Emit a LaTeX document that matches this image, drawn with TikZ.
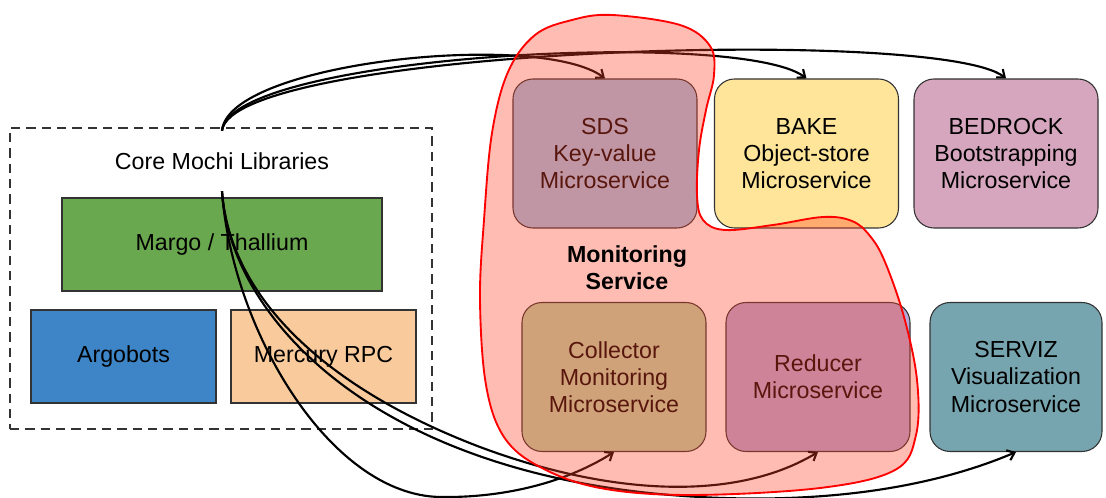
\documentclass[tikz,border=0pt]{standalone}
\usepackage{fontspec}
\setmainfont{Liberation Sans}
\usetikzlibrary{arrows.meta}
\definecolor{cgreen}{HTML}{6AA84F}
\definecolor{cblue}{HTML}{3D85C6}
\definecolor{corange}{HTML}{F9CB9C}
\definecolor{csds}{HTML}{9FC5E8}
\definecolor{cbake}{HTML}{FFE599}
\definecolor{cbedrock}{HTML}{D5A6BD}
\definecolor{ccoll}{HTML}{B6D7A8}
\definecolor{cred}{HTML}{B4A7D6}
\definecolor{cserviz}{HTML}{76A5AF}
\definecolor{blobfill}{RGB}{255,64,38}
\definecolor{edge}{HTML}{333333}
\tikzset{
  lib/.style={draw=edge, line width=0.8pt, inner sep=0pt, align=center},
  svc/.style={draw=edge, line width=0.8pt, rounded corners=15pt, inner sep=0pt, align=center,
    minimum width=138pt, minimum height=111.75pt},
  conn/.style={line width=1.6pt, -{Straight Barb[length=5pt,width=8pt]}},
  txt/.style={font=\fontsize{17.4}{20.3}\selectfont}
}
\begin{document}
\begin{tikzpicture}[x=0.75pt,y=-0.75pt, every node/.append style={txt}]
\useasboundingbox (0,0) rectangle (1106,498);
% core libraries
\node[draw=edge, dash pattern=on 7pt off 4.5pt, line width=2pt, minimum width=316.5pt, minimum height=225.75pt] (core) at (221,278.5) {};
\node[minimum height=45pt, inner sep=0pt] (title) at (222,161) {Core Mochi Libraries};
\node[lib, fill=cgreen, minimum width=240pt, minimum height=69.75pt] (margo) at (222,244.5) {Margo / Thallium};
\node[lib, fill=cblue, minimum width=138.75pt, minimum height=69.75pt] (argo) at (123.5,356.5) {Argobots};
\node[lib, fill=corange, minimum width=138.75pt, minimum height=69.75pt] (merc) at (323.5,356.5) {Mercury RPC};
% services
\node[svc, fill=csds] (sds) at (605,153.5) {SDS\\Key-value\\Microservice};
\node[svc, fill=cbake] (bake) at (806.5,153.5) {BAKE\\Object-store\\Microservice};
\node[svc, fill=cbedrock] (bedrock) at (1006,153.5) {BEDROCK\\Bootstrapping\\Microservice};
\node[svc, fill=ccoll] (coll) at (614,377) {Collector\\Monitoring\\Microservice};
\node[svc, fill=cred] (red) at (818,377) {Reducer\\Microservice};
\node[svc, fill=cserviz, minimum width=129pt] (serviz) at (1016,377) {SERVIZ\\Visualization\\Microservice};
% connectors
\draw[conn] (title.north) .. controls (228,62) and (540,30) .. (sds.north);
\draw[conn] (title.north) .. controls (230,55) and (740,28) .. (bake.north);
\draw[conn] (title.north) .. controls (232,48) and (940,26) .. (bedrock.north);
\draw[conn] (title.south) .. controls (232,330) and (330,495) .. (440,497) .. controls (510,498) and (570,480) .. (coll.south);
\draw[conn] (title.south) .. controls (230,300) and (330,390) .. (480,447) .. controls (600,492) and (730,505) .. (red.south);
\draw[conn] (title.south) .. controls (230,320) and (380,480) .. (700,497) .. controls (850,505) and (950,480) .. (serviz.south);
% monitoring blob
\path[fill=blobfill, fill opacity=0.35, draw=red, draw opacity=1, line width=1.4pt]
  plot[smooth cycle, tension=0.6] coordinates {
  (612,15) (680,25) (710,46) (714,75) (706,110) (699,150) (697,195) (703,220) (725,230)
  (773,225) (823,217) (852,221) (870,236) (885,262) (904,317) (917,380) (916,435)
  (895,470) (820,488) (690,495) (600,488) (540,467) (504,437) (486,385) (480,300)
  (484,220) (492,133) (508,72) (535,35) (572,20)};
\node[font=\fontsize{17.4}{20.3}\selectfont\bfseries, align=center] (mon) at (627,268) {Monitoring\\Service};
\end{tikzpicture}
\end{document}
